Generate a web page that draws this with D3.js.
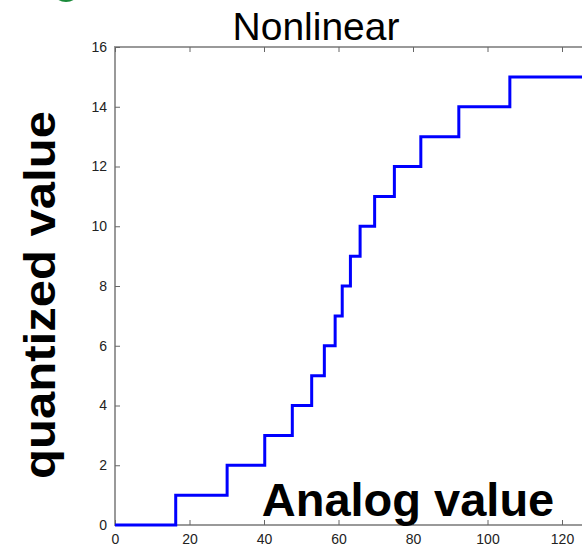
<!DOCTYPE html>
<html><head><meta charset="utf-8">
<script src="https://cdn.jsdelivr.net/npm/d3@7"></script>
<style>body{margin:0;background:#fff;} svg{display:block;}</style>
</head><body>
<svg id="c" width="582" height="548"></svg>
<script>
const thresholds = [16.3, 30.1, 40.2, 47.6, 52.8, 56.2, 59.1, 61, 63.2, 65.8, 69.7, 75, 82.1, 92.3, 106];
const levels = [0,1,2,3,4,5,6,7,8,9,10,11,12,13,14,15];
const xTicks = [0,20,40,60,80,100,120];
const yTicks = [0,2,4,6,8,10,12,14,16];
const xMax = 128;

const svg = d3.select("#c");
const x = d3.scaleLinear().domain([0, xMax]).range([115, 115 + 128*3.725]);
const y = d3.scaleLinear().domain([0, 16]).range([525, 47]);

// green decorative ellipse at top-left
svg.append("ellipse").attr("cx",66).attr("cy",-9).attr("rx",13).attr("ry",11).attr("fill","#1a8a3a");

// axes box
const axCol = "#999";
svg.append("rect").attr("x",x(0)).attr("y",y(16)).attr("width",x(xMax)-x(0)).attr("height",y(0)-y(16))
  .attr("fill","none").attr("stroke",axCol).attr("stroke-width",2);

const gx = svg.append("g").attr("transform",`translate(0,${y(0)})`)
  .call(d3.axisBottom(x).tickValues(xTicks).tickSize(-5).tickPadding(8).tickSizeOuter(0));
const gxt = svg.append("g").attr("transform",`translate(0,${y(16)})`)
  .call(d3.axisTop(x).tickValues(xTicks).tickSize(-5).tickFormat("").tickSizeOuter(0));
const gy = svg.append("g").attr("transform",`translate(${x(0)},0)`)
  .call(d3.axisLeft(y).tickValues(yTicks).tickSize(-5).tickPadding(8).tickSizeOuter(0));
[gx,gxt,gy].forEach(g=>{
  g.select(".domain").remove();
  g.selectAll(".tick line").attr("stroke","#666").attr("stroke-width",1);
  g.selectAll("text").attr("font-family","Liberation Sans, Arial, sans-serif").attr("font-size",14).attr("fill","#222");
});
gx.selectAll("text").attr("dy","0.8em");

// step line
const pts = [[0, levels[0]]];
thresholds.forEach((t,i)=>{ pts.push([t, levels[i]]); pts.push([t, levels[i+1]]); });
pts.push([xMax, levels[levels.length-1]]);
svg.append("path").datum(pts)
  .attr("d", d3.line().x(d=>x(d[0])).y(d=>y(d[1])))
  .attr("fill","none").attr("stroke","#0000ff").attr("stroke-width",3).attr("stroke-linejoin","miter");

// title
svg.append("text").attr("x",316).attr("y",40).attr("text-anchor","middle")
  .attr("font-family","Liberation Sans, Arial, sans-serif").attr("font-size",39).attr("fill","#000").text("Nonlinear");
// y label
svg.append("text").attr("transform","translate(55,295) rotate(-90) scale(1.09,1)").attr("text-anchor","middle")
  .attr("font-family","Liberation Sans, Arial, sans-serif").attr("font-weight","bold").attr("font-size",45).attr("fill","#000").text("quantized value");
// x label
svg.append("text").attr("x",408).attr("y",516).attr("text-anchor","middle")
  .attr("font-family","Liberation Sans, Arial, sans-serif").attr("font-weight","bold").attr("font-size",47).attr("fill","#000").text("Analog value");
</script>
</body></html>
